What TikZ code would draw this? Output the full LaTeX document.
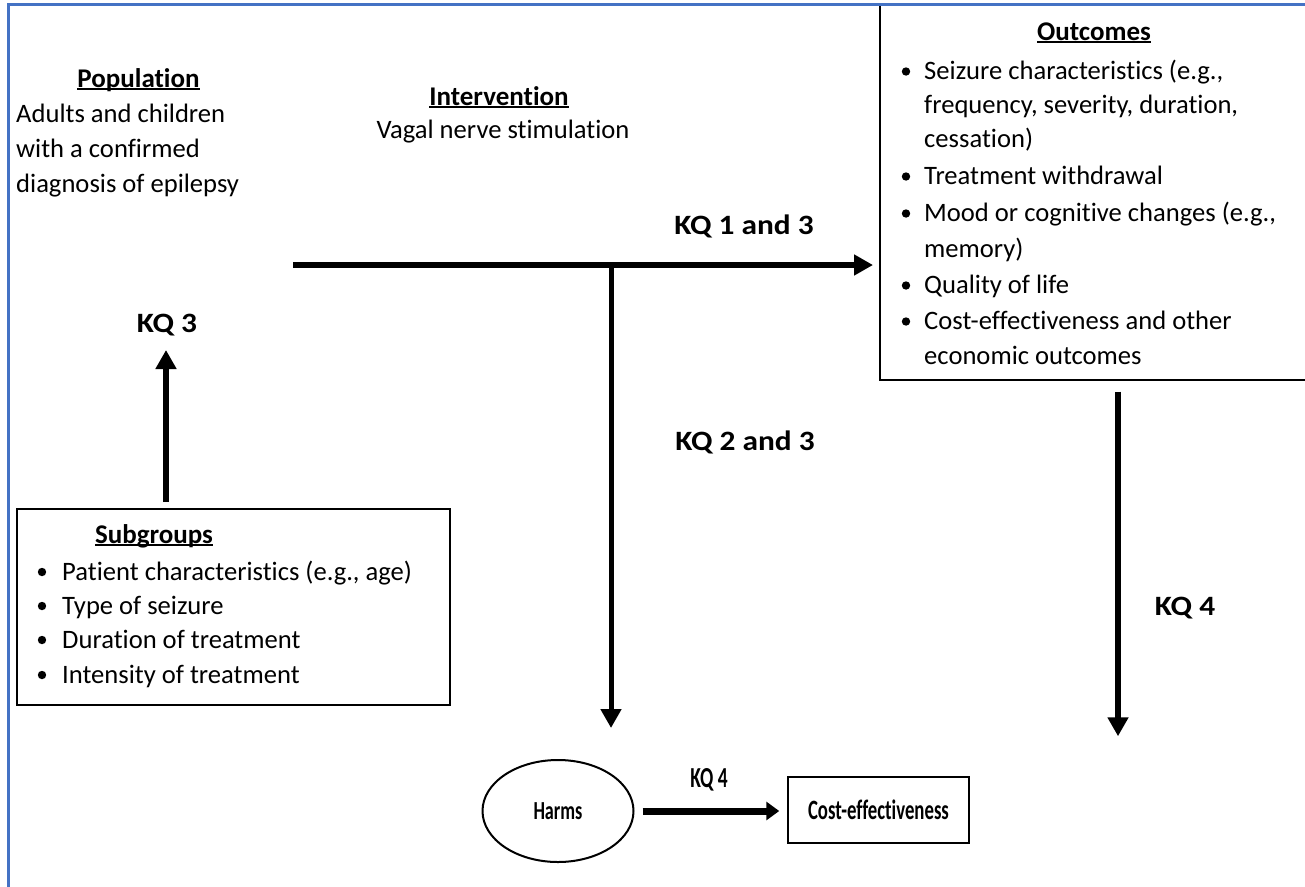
\documentclass[tikz,border=0pt]{standalone}
\usepackage{fontspec}
\setmainfont[Ligatures=NoCommon]{Carlito}
\newfontfamily\condfont[FakeStretch=0.67,Ligatures=NoCommon]{Carlito}
\newfontfamily\harmfont[FakeStretch=0.70,Ligatures=NoCommon]{Carlito}
\newfontfamily\widefont[FakeStretch=1.12,Ligatures=NoCommon]{Carlito}
\usetikzlibrary{arrows.meta,shapes.geometric}
\definecolor{frameblue}{HTML}{4472C4}
\newcommand\myul[1]{\setbox0\hbox{#1}\rlap{\rule[-3pt]{\wd0}{1.6pt}}\box0}
\begin{document}
\begin{tikzpicture}[x=1pt,y=-1pt,
  txt/.style={inner sep=0pt, anchor=base west, font=\fontsize{26.6}{30}\selectfont},
  head/.style={inner sep=0pt, anchor=base, font=\fontsize{27}{30}\selectfont\bfseries},
  kq/.style={inner sep=0pt, anchor=center, font=\widefont\fontsize{28}{30}\selectfont\bfseries},
  bx/.style={draw, line width=1.5pt, inner sep=0pt},
  arr/.style={line width=6pt, -{Triangle[length=19pt,width=20pt]}},
  cond/.style={font=\condfont\fontsize{28}{30}\selectfont\bfseries}
]
\useasboundingbox (0,0) rectangle (1305,886);
\clip (0,0) rectangle (1305,886);
\fill[white] (0,0) rectangle (1305,886);

% Population
\node[head] (pop) at (138.5,87) {\myul{Population}};
\node[txt] (pop1) at (16,122) {Adults and children};
\node[txt] (pop2) at (16,157) {with a confirmed};
\node[txt] (pop3) at (16,192) {diagnosis of epilepsy};

% Intervention
\node[head] (int) at (499,105) {\myul{Intervention}};
\node[txt, anchor=base] (int1) at (503,138) {Vagal nerve stimulation};

% Outcomes
\node[bx, anchor=north west, minimum width=440pt, minimum height=375pt] (outbox) at (879,4) {};
\node[head] (outh) at (1094,40) {\myul{Outcomes}};
\node[txt] (o1) at (924,79) {Seizure characteristics (e.g.,};
\node[txt] (o2) at (924,113) {frequency, severity, duration,};
\node[txt] (o3) at (924,147) {cessation)};
\node[txt] (o4) at (924,184) {Treatment withdrawal};
\node[txt] (o5) at (924,221) {Mood or cognitive changes (e.g.,};
\node[txt] (o6) at (924,257) {memory)};
\node[txt] (o7) at (924,293) {Quality of life};
\node[txt] (o8) at (924,329) {Cost-effectiveness and other};
\node[txt] (o9) at (924,364) {economic outcomes};
\foreach \yy in {79,184,221,293,329} \fill (906,\yy-7.5) circle (4.2pt);

% Subgroups
\node[bx, anchor=north west, minimum width=433pt, minimum height=196pt] (subbox) at (16,508) {};
\node[head] (subh) at (154,543) {\myul{Subgroups}};
\node[txt] (s1) at (62,580) {Patient characteristics (e.g., age)};
\node[txt] (s2) at (62,614) {Type of seizure};
\node[txt] (s3) at (62,648) {Duration of treatment};
\node[txt] (s4) at (62,683) {Intensity of treatment};
\foreach \yy in {580,614,648,683} \fill (42,\yy-8) circle (4.2pt);

% Harms and cost
\node[draw, ellipse, line width=2pt, minimum width=151pt, minimum height=102pt, inner sep=0pt, font=\harmfont\fontsize{26}{30}\selectfont\bfseries] (harms) at (558,811) {Harms};
\node[bx, minimum width=181pt, minimum height=66pt, cond] (cost) at (878.5,810) {Cost-effectiveness};

% Connectors
\coordinate (hs) at (293,265);
\coordinate (br) at (611,265);
\coordinate (uptop) at (166,350);
\coordinate (rx) at (1118,0);
\draw[arr, shorten >=6pt] (hs) -- (hs -| outbox.west);
\draw[line width=5pt, -{Triangle[length=19pt,width=20pt]}, shorten >=31pt] (br) -- (br |- harms.north);
\draw[arr, shorten <=6pt] (subbox.north -| uptop) -- (uptop);
\draw[arr, shorten <=11pt, shorten >=40pt] (outbox.south -| rx) -- (cost.north -| rx);
\draw[line width=7pt, -{Triangle[length=13pt,width=18pt]}, shorten <=8pt, shorten >=8pt] (harms.east) -- (harms.east -| cost.west);

% Labels
\node[kq] (kq13) at (744,226) {KQ 1 and 3};
\node[kq] (kq23) at (745,442) {KQ 2 and 3};
\node[kq] (kq3) at (167,325) {KQ 3};
\node[kq] (kq4r) at (1185,608) {KQ 4};
\node[inner sep=0pt, font=\condfont\fontsize{29}{30}\selectfont\bfseries] (kq4b) at (709,780) {KQ 4};

% Frame
\draw[frameblue, line width=3pt] (8,900) -- (8,4) -- (1320,4);
\end{tikzpicture}
\end{document}
